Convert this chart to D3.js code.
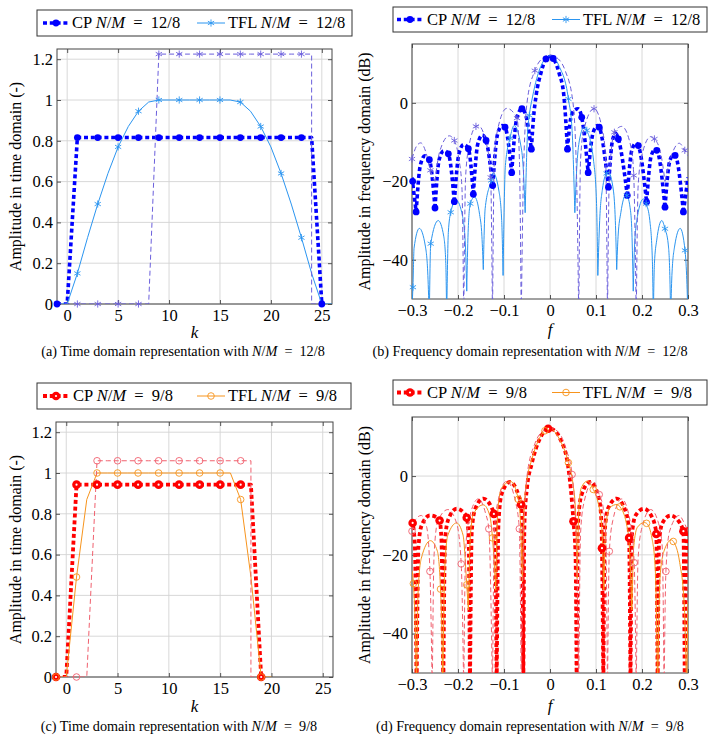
<!DOCTYPE html>
<html>
<head>
<meta charset="utf-8">
<script src="https://cdn.jsdelivr.net/npm/d3@7"></script>
<style>
  body { margin: 0; background: #fff; }
</style>
</head>
<body>
<svg id="fig" width="708" height="735" font-family="'Liberation Serif', 'DejaVu Serif', serif"></svg>
<script>
// ---------- data ----------

// time domain, N/M = 12/8   ([k, amplitude])
var cp12Time = [[-1,0],[0,0],[1,0.816],[2,0.816],[3,0.816],[4,0.816],[5,0.816],[6,0.816],[7,0.816],[8,0.816],
  [9,0.816],[10,0.816],[11,0.816],[12,0.816],[13,0.816],[14,0.816],[15,0.816],[16,0.816],[17,0.816],[18,0.816],
  [19,0.816],[20,0.816],[21,0.816],[22,0.816],[23,0.816],[24,0.816],[25,0]];
var tfl12Time = [[-1,0],[0,0],[1,0.15],[2,0.325],[3,0.49],[4,0.64],[5,0.77],[6,0.87],[7,0.945],[8,0.99],
  [9,1],[10,1],[11,1],[12,1],[13,1],[14,1],[15,1],[16,1],[17,0.99],[18,0.945],[19,0.87],[20,0.77],
  [21,0.64],[22,0.49],[23,0.325],[24,0.15],[25,0],[26,0]];
var ext12Time = [[-1,0],[0,0],[1,0],[2,0],[3,0],[4,0],[5,0],[6,0],[7,0],[8,0],[9,1.225],[10,1.225],[11,1.225],
  [12,1.225],[13,1.225],[14,1.225],[15,1.225],[16,1.225],[17,1.225],[18,1.225],[19,1.225],[20,1.225],
  [21,1.225],[22,1.225],[23,1.225],[24,1.225],[24,0],[25,0]];
var cp12MarkK = [-1,1,3,5,7,9,11,13,15,17,19,21,23,25];
var tfl12MarkK = [1,3,5,7,9,11,13,15,17,19,21,23];
var ext12MarkK = [1,3,5,7,9,11,13,15,17,19,21,23];

// time domain, N/M = 9/8
var cp9Time = [[-1,0],[0,0],[1,0.943],[2,0.943],[3,0.943],[4,0.943],[5,0.943],[6,0.943],[7,0.943],[8,0.943],
  [9,0.943],[10,0.943],[11,0.943],[12,0.943],[13,0.943],[14,0.943],[15,0.943],[16,0.943],[17,0.943],[18,0.943],[19,0]];
var tfl9Time = [[-1,0],[0,0],[1,0.49],[2,0.87],[3,1],[4,1],[5,1],[6,1],[7,1],[8,1],[9,1],[10,1],[11,1],[12,1],
  [13,1],[14,1],[15,1],[16,1],[17,0.87],[18,0.49],[19,0],[20,0]];
var ext9Time = [[-1,0],[0,0],[1,0],[2,0],[3,1.06],[4,1.06],[5,1.06],[6,1.06],[7,1.06],[8,1.06],[9,1.06],[10,1.06],
  [11,1.06],[12,1.06],[13,1.06],[14,1.06],[15,1.06],[16,1.06],[17,1.06],[18,1.06],[18,0],[19,0]];
var cp9MarkK = [-1,1,3,5,7,9,11,13,15,17,19];
var tfl9MarkK = [-1,1,3,5,7,9,11,13,15,17,19];
var ext9MarkK = [1,3,5,7,9,11,13,15,17];

// frequency domain, N/M = 12/8   ([f, dB])
var cp12Spec = [[-0.3,-19],[-0.291,-27.8],[-0.282,-16],[-0.272,-13.5],[-0.2623,-14.5],[-0.25,-26.8],
  [-0.241,-14.5],[-0.231,-12.2],[-0.221,-13],[-0.208,-25.2],[-0.198,-13],[-0.188,-10.6],[-0.1775,-11.7],
  [-0.1667,-23.3],[-0.157,-10.5],[-0.147,-8.2],[-0.139,-9.6],[-0.1246,-21.1],[-0.114,-8],[-0.104,-5.8],
  [-0.0978,-6.2],[-0.0833,-17.8],[-0.072,-3.8],[-0.061,-1.5],[-0.053,-3],[-0.0405,-11.8],[-0.036,-4],
  [-0.03,2],[-0.02,7.5],[-0.0087,11.2],[0,11.8],[0.007,11.3],[0.02,7.5],[0.03,2],[0.034,-4],[0.038,-11.8],
  [0.045,-4],[0.052,-2],[0.061,-1.5],[0.069,-3.7],[0.083,-17.8],[0.094,-7.5],[0.104,-5.8],[0.107,-6.2],
  [0.127,-21.5],[0.136,-9.5],[0.143,-7.8],[0.1486,-9.2],[0.168,-23.6],[0.178,-12],[0.187,-10.3],[0.192,-10.9],
  [0.21,-25.3],[0.22,-13.5],[0.228,-12],[0.232,-12.1],[0.25,-26.6],[0.26,-15],[0.268,-13.3],[0.272,-13.4],
  [0.29,-27.8],[0.3,-19]];
var cp12SpecMarks = [[-0.2986,-20],[-0.291,-27.8],[-0.2623,-14.5],[-0.25,-26.8],[-0.221,-13],[-0.208,-25.2],
  [-0.1775,-11.7],[-0.1667,-23.3],[-0.139,-9.6],[-0.1246,-21.1],[-0.0978,-6.2],[-0.0833,-17.8],[-0.061,-1.5],
  [-0.0405,-11.8],[-0.0087,11.2],[0.007,11.3],[0.038,-11.8],[0.069,-3.7],[0.083,-17.8],[0.107,-6.2],
  [0.127,-21.5],[0.1486,-9.2],[0.168,-23.6],[0.192,-10.9],[0.21,-25.3],[0.232,-12.1],[0.25,-26.6],
  [0.272,-13.4],[0.29,-27.8]];

var tfl12Spec = [[-0.302,-55],[-0.298,-47],[-0.2955,-37],[-0.284,-32],[-0.271,-36.5],[-0.2655,-44],[-0.2624,-55],
  [-0.2593,-35.9],[-0.243,-30],[-0.231,-34],[-0.2265,-41],[-0.2246,-55],
  [-0.221,-33],[-0.2158,-27.9],[-0.204,-24.8],[-0.19,-29],[-0.184,-36],[-0.181,-48],
  [-0.178,-33],[-0.1733,-25.7],[-0.164,-24],[-0.153,-28.5],[-0.148,-34],[-0.145,-42.5],
  [-0.141,-27],[-0.128,-19.8],[-0.124,-17.8],[-0.111,-22.5],[-0.105,-30],[-0.102,-44],
  [-0.097,-16],[-0.087,-9],[-0.078,-5.8],[-0.064,-10.5],[-0.058,-17],[-0.054,-28],
  [-0.049,-8],[-0.045,-3.2],[-0.038,1.5],[-0.02,9.3],[0,12],[0.02,9.3],[0.04,1],[0.048,-7],[0.054,-28],
  [0.058,-17],[0.064,-9.5],[0.075,-6],[0.08,-7],[0.095,-15],[0.101,-25],[0.104,-44],
  [0.108,-30],[0.114,-22],[0.123,-18],[0.127,-17.7],[0.138,-22.5],[0.142,-30],[0.145,-42.5],
  [0.148,-34],[0.154,-28],[0.165,-23.5],[0.167,-23.6],[0.175,-27.5],[0.178,-33],[0.181,-48],
  [0.184,-36],[0.19,-29],[0.203,-24.5],[0.209,-25.7],[0.217,-30],[0.2225,-40],[0.2246,-55],
  [0.227,-41],[0.232,-35],[0.243,-30],[0.25,-32.1],[0.257,-36],[0.2605,-44],[0.2624,-55],
  [0.265,-44],[0.271,-36.5],[0.283,-32],[0.2935,-37.6],[0.297,-44],[0.3,-55]];
var tfl12SpecMarks = [[-0.298,-47],[-0.2593,-35.9],[-0.2158,-27.9],[-0.1733,-25.7],[-0.128,-19.8],
  [-0.087,-9],[-0.045,-3.2],[0.04,1],[0.08,-7],[0.123,-18],[0.167,-23.6],[0.209,-25.7],[0.25,-32.1],[0.2935,-37.6]];

var ext12Spec = [[-0.3,-14.3],[-0.29,-11],[-0.281,-10.2],[-0.27,-12.5],[-0.26,-17.2],[-0.25,-20],
  [-0.24,-12.5],[-0.219,-8.4],[-0.208,-9.6],[-0.1985,-14],[-0.1915,-21.5],[-0.1875,-55],
  [-0.1835,-19],[-0.1765,-11.3],[-0.161,-6],[-0.156,-5.8],[-0.1365,-11.3],[-0.129,-19],[-0.125,-55],
  [-0.121,-14.4],[-0.114,-6.9],[-0.094,-1.4],[-0.0717,-3.9],[-0.0665,-14.4],[-0.0625,-55],
  [-0.058,-20],[-0.05,0],[-0.033,8.2],[-0.018,11.2],[0,12.2],[0.018,11.2],[0.033,8.2],[0.05,0],[0.058,-20],[0.0625,-55],
  [0.0665,-14.4],[0.0735,-6.9],[0.0957,-1.5],[0.114,-6.9],[0.121,-14.4],[0.125,-55],
  [0.129,-19],[0.14,-7.5],[0.156,-6],[0.1765,-11.5],[0.182,-18.5],[0.1875,-55],
  [0.1915,-21.5],[0.1985,-14],[0.219,-8.6],[0.227,-9.2],[0.24,-12.5],[0.25,-20],
  [0.26,-15],[0.281,-10.3],[0.293,-12.1],[0.3,-13.5]];
var ext12SpecMarks = [[-0.3,-14.3],[-0.26,-17.2],[-0.208,-9.6],[-0.161,-6],[-0.129,-19],[-0.0717,-3.9],
  [-0.033,8.2],[0.0957,-1.5],[0.14,-7.5],[0.182,-18.5],[0.227,-9.2],[0.293,-12.1]];

// frequency domain, N/M = 9/8
var cp9Spec = [[-0.3,-11],[-0.2986,-11.9],[-0.294,-17],[-0.29,-55],
  [-0.286,-18],[-0.279,-12.5],[-0.261,-10],[-0.245,-10.6],[-0.24,-11.3],[-0.236,-16],[-0.232,-55],
  [-0.228,-16],[-0.221,-11],[-0.203,-8.3],[-0.186,-9.5],[-0.181,-10.6],[-0.177,-15],[-0.174,-55],
  [-0.17,-14],[-0.163,-8.5],[-0.145,-5.7],[-0.127,-8],[-0.122,-9.6],[-0.119,-14],[-0.116,-55],
  [-0.112,-12],[-0.105,-4.5],[-0.087,-1.5],[-0.068,-5],[-0.063,-7.2],[-0.0605,-12],[-0.058,-55],
  [-0.0555,-12],[-0.05,-3],[-0.04,3],[-0.022,9.5],[-0.004,12],[0.004,11.9],[0.022,9.5],[0.04,2],
  [0.051,-11.5],[0.0555,-20],[0.058,-55],
  [0.061,-12],[0.068,-5],[0.087,-1.5],[0.105,-5],[0.111,-10],[0.113,-18.3],[0.116,-55],
  [0.119,-14],[0.127,-8],[0.145,-5.7],[0.163,-8.5],[0.17,-12],[0.172,-15.7],[0.175,-55],
  [0.178,-15],[0.186,-10],[0.204,-8.3],[0.222,-10.5],[0.228,-12.5],[0.231,-14.7],[0.234,-55],
  [0.237,-17],[0.244,-12],[0.262,-10],[0.28,-11.5],[0.287,-13],[0.29,-14],[0.293,-55],
  [0.296,-18],[0.3,-13]];
var cp9SpecMarks = [[-0.2986,-11.9],[-0.24,-11.3],[-0.181,-10.6],[-0.122,-9.6],[-0.063,-7.2],[-0.004,12],
  [0.051,-11.5],[0.113,-18.3],[0.172,-15.7],[0.231,-14.7],[0.29,-14]];

var tfl9Spec = [[-0.3,-24],[-0.297,-27.3],[-0.293,-38],[-0.29,-55],
  [-0.287,-30],[-0.28,-21],[-0.26,-16.4],[-0.245,-19],[-0.238,-28.7],[-0.235,-40],[-0.233,-55],
  [-0.229,-24],[-0.222,-15],[-0.203,-11.9],[-0.189,-15],[-0.181,-27.6],[-0.1775,-34],
  [-0.173,-15],[-0.166,-9.5],[-0.145,-7.3],[-0.131,-10],[-0.125,-15.7],[-0.118,-29],
  [-0.113,-8],[-0.105,-3],[-0.085,-1.4],[-0.069,-5.9],[-0.064,-12],[-0.06,-26.8],
  [-0.056,-8],[-0.05,-1],[-0.04,4],[-0.011,11.5],[0,12],[0.02,9.5],[0.04,3.4],[0.05,-2],[0.055,-8],[0.059,-26],
  [0.063,-8],[0.068,-3],[0.081,-1.3],[0.094,-3.4],[0.105,-7],[0.112,-12],[0.117,-28.9],
  [0.121,-13],[0.13,-8],[0.146,-7.2],[0.152,-7.8],[0.166,-12],[0.172,-17],[0.178,-34],
  [0.182,-18],[0.19,-13],[0.205,-11.8],[0.21,-12],[0.222,-16],[0.229,-24],[0.234,-55],
  [0.239,-26],[0.248,-19],[0.264,-16.2],[0.268,-16.6],[0.282,-22],[0.292,-33],[0.297,-55],
  [0.3,-32]];
var tfl9SpecMarks = [[-0.297,-27.3],[-0.238,-28.7],[-0.181,-27.6],[-0.125,-15.7],[-0.069,-5.9],[-0.011,11.5],
  [0.04,3.4],[0.094,-3.4],[0.152,-7.8],[0.21,-12],[0.268,-16.6]];

var ext9Spec = [[-0.3,-14],[-0.292,-11],[-0.28,-10],[-0.268,-13],[-0.261,-24.2],[-0.256,-55],
  [-0.252,-20],[-0.244,-11.5],[-0.222,-8.5],[-0.203,-12],[-0.193,-22.3],[-0.1875,-55],
  [-0.1835,-19],[-0.1765,-11.3],[-0.156,-5.8],[-0.14,-9.5],[-0.133,-13.4],[-0.125,-55],
  [-0.121,-14.4],[-0.114,-6.9],[-0.094,-1.3],[-0.075,-6.5],[-0.0667,-13.4],[-0.0625,-55],
  [-0.058,-20],[-0.05,0],[-0.033,8.2],[-0.018,11.2],[0,12.2],[0.018,11.2],[0.036,6.5],[0.048,0.4],[0.058,-20],[0.0625,-55],
  [0.0665,-14.4],[0.0735,-6.9],[0.094,-1.3],[0.107,-4.7],[0.116,-8.3],[0.121,-14.4],[0.125,-55],
  [0.129,-19.1],[0.1365,-11.3],[0.156,-5.8],[0.175,-12],[0.183,-22],[0.1875,-55],
  [0.1915,-21],[0.199,-13.5],[0.219,-8.5],[0.236,-12],[0.244,-18],[0.248,-55],
  [0.252,-24.2],[0.26,-14],[0.281,-10],[0.29,-11.5],[0.3,-14]];
var ext9SpecMarks = [[-0.3,-14],[-0.261,-24.2],[-0.193,-22.3],[-0.133,-13.4],[-0.0667,-13.4],[0.048,0.4],
  [0.107,-4.7],[0.129,-19.1],[0.183,-22],[0.252,-24.2]];

// axis ticks
var kTicks = [0, 5, 10, 15, 20, 25];
var ampTicks = [0, 0.2, 0.4, 0.6, 0.8, 1, 1.2];
var fTicks = [-0.3, -0.2, -0.1, 0, 0.1, 0.2, 0.3];
var dbTicks = [-40, -20, 0];

// ---------- styles ----------
var BLUE = "#0000ff", LBLUE = "#2b95f0", PURPLE = "#6b5fdc";
var RED = "#ff0000", ORANGE = "#f7941d", PINK = "#f0606e";

var cpStyle12  = { color: BLUE,   width: 3.6, dash: "4,2.8", mark: "dot" };
var tflStyle12 = { color: LBLUE,  width: 1,   dash: null,    mark: "asterisk" };
var extStyle12 = { color: PURPLE, width: 1,   dash: "5,3",   mark: "asterisk" };
var cpStyle9   = { color: RED,    width: 3.8, dash: "4,2.8", mark: "ringdot" };
var tflStyle9  = { color: ORANGE, width: 1,   dash: null,    mark: "circle" };
var extStyle9  = { color: PINK,   width: 1,   dash: "5,3",   mark: "circle" };

var svg = d3.select("#fig");

// split a spectrum at its local minima so each lobe is its own piece (sharp nulls)
function lobes(pts) {
  var segs = [], cur = [pts[0]];
  for (var i = 1; i < pts.length; i++) {
    cur.push(pts[i]);
    if (i < pts.length - 1 && pts[i][1] < pts[i - 1][1] && pts[i][1] < pts[i + 1][1]) {
      segs.push(cur);
      cur = [pts[i]];
    }
  }
  segs.push(cur);
  return segs;
}

function pickK(pts, ks) {
  return pts.filter(function(p, i) {
    return ks.indexOf(p[0]) >= 0 && !(i > 0 && pts[i - 1][0] === p[0]);
  });
}

function drawMark(g, cx, cy, st) {
  if (st.mark === "dot") {
    g.append("circle").attr("cx", cx).attr("cy", cy).attr("r", 3.4).attr("fill", st.color);
  } else if (st.mark === "ringdot") {
    g.append("circle").attr("cx", cx).attr("cy", cy).attr("r", 4.3).attr("fill", st.color);
    g.append("circle").attr("cx", cx).attr("cy", cy).attr("r", 1.1).attr("fill", "#fff");
  } else if (st.mark === "circle") {
    g.append("circle").attr("cx", cx).attr("cy", cy).attr("r", 3.3)
      .attr("fill", "none").attr("stroke", st.color).attr("stroke-width", 0.9);
  } else {
    var r = 3.6, c = r * Math.cos(Math.PI / 6), s = r / 2;
    g.append("path")
      .attr("d", "M" + cx + "," + (cy - r) + "L" + cx + "," + (cy + r) +
                 "M" + (cx - c) + "," + (cy - s) + "L" + (cx + c) + "," + (cy + s) +
                 "M" + (cx - c) + "," + (cy + s) + "L" + (cx + c) + "," + (cy - s))
      .attr("stroke", st.color).attr("stroke-width", 0.9).attr("fill", "none");
  }
}

function mathRatio(t, pre, ratio) {
  t.append("tspan").text(pre);
  t.append("tspan").attr("font-style", "italic").text("N");
  t.append("tspan").text("/");
  t.append("tspan").attr("font-style", "italic").text("M");
  t.append("tspan").text("\u2002=\u2002" + ratio);
}

function drawPanel(cfg) {
  var x0 = cfg.box[0], y0 = cfg.box[1], x1 = cfg.box[2], y1 = cfg.box[3];
  var x = d3.scaleLinear().domain(cfg.xDom).range([x0, x1]);
  var y = d3.scaleLinear().domain(cfg.yDom).range([y1, y0]);
  var g = svg.append("g");

  // grid
  g.selectAll(".gx").data(cfg.xTicks).join("line")
    .attr("x1", function(d) { return x(d); }).attr("x2", function(d) { return x(d); })
    .attr("y1", y0).attr("y2", y1).attr("stroke", "#d4d4d4").attr("stroke-width", 0.9);
  g.selectAll(".gy").data(cfg.yTicks).join("line")
    .attr("x1", x0).attr("x2", x1)
    .attr("y1", function(d) { return y(d); }).attr("y2", function(d) { return y(d); })
    .attr("stroke", "#d4d4d4").attr("stroke-width", 0.9);

  // axes (inward ticks on all four sides)
  var ax = [
    g.append("g").attr("transform", "translate(0," + y1 + ")")
      .call(d3.axisBottom(x).tickValues(cfg.xTicks).tickSizeInner(-4).tickSizeOuter(0).tickPadding(5).tickFormat(cfg.fmtX)),
    g.append("g").attr("transform", "translate(0," + y0 + ")")
      .call(d3.axisTop(x).tickValues(cfg.xTicks).tickSizeInner(-4).tickSizeOuter(0).tickFormat("")),
    g.append("g").attr("transform", "translate(" + x0 + ",0)")
      .call(d3.axisLeft(y).tickValues(cfg.yTicks).tickSizeInner(-4).tickSizeOuter(0).tickPadding(4).tickFormat(cfg.fmtY)),
    g.append("g").attr("transform", "translate(" + x1 + ",0)")
      .call(d3.axisRight(y).tickValues(cfg.yTicks).tickSizeInner(-4).tickSizeOuter(0).tickFormat(""))
  ];
  ax.forEach(function(a) {
    a.select(".domain").remove();
    a.attr("font-family", null).attr("font-size", 16.5);
    a.selectAll("line").attr("stroke", "#555");
  });

  g.append("rect").attr("x", x0).attr("y", y0).attr("width", x1 - x0).attr("height", y1 - y0)
    .attr("fill", "none").attr("stroke", "#444").attr("stroke-width", 1);

  // data
  svg.append("clipPath").attr("id", "clip" + cfg.id)
    .append("rect").attr("x", x0).attr("y", y0).attr("width", x1 - x0).attr("height", y1 - y0);
  var plot = g.append("g").attr("clip-path", "url(#clip" + cfg.id + ")");
  var marks = g.append("g");

  cfg.series.forEach(function(s) {
    var d;
    if (cfg.spectrum) {
      var line = d3.line().x(function(p) { return x(p[0]); }).y(function(p) { return y(p[1]); })
        .curve(d3.curveMonotoneX);
      d = lobes(s.pts).map(function(seg) { return line(seg); }).join("");
    } else {
      d = d3.line().x(function(p) { return x(p[0]); }).y(function(p) { return y(p[1]); })(s.pts);
    }
    plot.append("path").attr("d", d)
      .attr("fill", "none").attr("stroke", s.style.color).attr("stroke-width", s.style.width)
      .attr("stroke-dasharray", s.style.dash).attr("stroke-linejoin", "round");
    var mg = marks.append("g");
    s.marks.forEach(function(p) {
      if (p[0] >= cfg.xDom[0] - 1e-9 && p[0] <= cfg.xDom[1] + 1e-9) drawMark(mg, x(p[0]), y(p[1]), s.style);
    });
  });

  // axis titles
  svg.append("text").attr("x", (x0 + x1) / 2).attr("y", cfg.xLabelY)
    .attr("text-anchor", "middle").attr("font-size", 17).attr("font-style", "italic").text(cfg.xLabel);
  svg.append("text").attr("transform", "translate(" + cfg.yLabelX + "," + (y0 + y1) / 2 + ") rotate(-90)")
    .attr("text-anchor", "middle").attr("dy", "0.35em").attr("font-size", 16).text(cfg.yLabel);

  // legend
  var L = cfg.legend;
  var lg = svg.append("g");
  lg.append("rect").attr("x", L.box[0]).attr("y", L.box[1]).attr("width", L.box[2] - L.box[0])
    .attr("height", L.box[3] - L.box[1]).attr("fill", "#fff").attr("stroke", "#333").attr("stroke-width", 1);
  var cy = (L.box[1] + L.box[3]) / 2;
  L.items.forEach(function(it) {
    lg.append("line").attr("x1", it.x0).attr("x2", it.x1).attr("y1", cy).attr("y2", cy)
      .attr("stroke", it.style.color).attr("stroke-width", it.style.width).attr("stroke-dasharray", it.style.dash);
    drawMark(lg, (it.x0 + it.x1) / 2, cy, it.style);
    var t = lg.append("text").attr("x", it.tx).attr("y", cy).attr("dy", "0.33em").attr("font-size", 16.5);
    mathRatio(t, it.label + " ", it.ratio);
  });

  // caption
  var cap = svg.append("text").attr("x", cfg.capX).attr("y", cfg.capY).attr("text-anchor", "middle")
    .attr("font-size", 14.2);
  mathRatio(cap, cfg.caption, cfg.ratio);
}

var fmtAmp = function(d) { return String(+d.toFixed(1)); };
var fmtDef = d3.format("");

drawPanel({
  id: "a", box: [57, 49, 332, 304], xDom: [-1, 26], yDom: [0, 1.25],
  xTicks: kTicks, yTicks: ampTicks, fmtX: fmtDef, fmtY: fmtAmp, spectrum: false,
  xLabel: "k", xLabelY: 338, yLabel: "Amplitude in time domain (-)", yLabelX: 15,
  series: [
    { pts: cp12Time, marks: pickK(cp12Time, cp12MarkK), style: cpStyle12 },
    { pts: tfl12Time, marks: pickK(tfl12Time, tfl12MarkK), style: tflStyle12 },
    { pts: ext12Time, marks: pickK(ext12Time, ext12MarkK), style: extStyle12 }
  ],
  legend: { box: [37, 10, 352, 36], items: [
    { x0: 43, x1: 69, tx: 72, label: "CP", ratio: "12/8", style: cpStyle12 },
    { x0: 197, x1: 225, tx: 228, label: "TFL", ratio: "12/8", style: tflStyle12 } ] },
  caption: "(a) Time domain representation with ", ratio: "12/8", capX: 183, capY: 356
});

drawPanel({
  id: "b", box: [412, 44, 688, 299], xDom: [-0.3, 0.3], yDom: [-50, 15],
  xTicks: fTicks, yTicks: dbTicks, fmtX: fmtDef, fmtY: fmtDef, spectrum: true,
  xLabel: "f", xLabelY: 335, yLabel: "Amplitude in frequency domain (dB)", yLabelX: 364,
  series: [
    { pts: cp12Spec, marks: cp12SpecMarks, style: cpStyle12 },
    { pts: tfl12Spec, marks: tfl12SpecMarks, style: tflStyle12 },
    { pts: ext12Spec, marks: ext12SpecMarks, style: extStyle12 }
  ],
  legend: { box: [393, 7, 707, 32], items: [
    { x0: 397, x1: 423, tx: 427, label: "CP", ratio: "12/8", style: cpStyle12 },
    { x0: 552, x1: 580, tx: 583, label: "TFL", ratio: "12/8", style: tflStyle12 } ] },
  caption: "(b) Frequency domain representation with ", ratio: "12/8", capX: 530, capY: 356
});

drawPanel({
  id: "c", box: [56, 422, 333, 677], xDom: [-1, 26], yDom: [0, 1.25],
  xTicks: kTicks, yTicks: ampTicks, fmtX: fmtDef, fmtY: fmtAmp, spectrum: false,
  xLabel: "k", xLabelY: 712, yLabel: "Amplitude in time domain (-)", yLabelX: 15,
  series: [
    { pts: cp9Time, marks: pickK(cp9Time, cp9MarkK), style: cpStyle9 },
    { pts: tfl9Time, marks: pickK(tfl9Time, tfl9MarkK), style: tflStyle9 },
    { pts: ext9Time, marks: pickK(ext9Time, ext9MarkK), style: extStyle9 }
  ],
  legend: { box: [37, 383, 351, 409], items: [
    { x0: 43, x1: 69, tx: 73, label: "CP", ratio: "9/8", style: cpStyle9 },
    { x0: 197, x1: 225, tx: 228, label: "TFL", ratio: "9/8", style: tflStyle9 } ] },
  caption: "(c) Time domain representation with ", ratio: "9/8", capX: 179, capY: 731
});

drawPanel({
  id: "d", box: [412, 417, 688, 673], xDom: [-0.3, 0.3], yDom: [-50, 15],
  xTicks: fTicks, yTicks: dbTicks, fmtX: fmtDef, fmtY: fmtDef, spectrum: true,
  xLabel: "f", xLabelY: 711, yLabel: "Amplitude in frequency domain (dB)", yLabelX: 364,
  series: [
    { pts: cp9Spec, marks: cp9SpecMarks, style: cpStyle9 },
    { pts: tfl9Spec, marks: tfl9SpecMarks, style: tflStyle9 },
    { pts: ext9Spec, marks: ext9SpecMarks, style: extStyle9 }
  ],
  legend: { box: [393, 380, 707, 405], items: [
    { x0: 397, x1: 423, tx: 427, label: "CP", ratio: "9/8", style: cpStyle9 },
    { x0: 552, x1: 580, tx: 583, label: "TFL", ratio: "9/8", style: tflStyle9 } ] },
  caption: "(d) Frequency domain representation with ", ratio: "9/8", capX: 530, capY: 731
});
</script>
</body>
</html>
